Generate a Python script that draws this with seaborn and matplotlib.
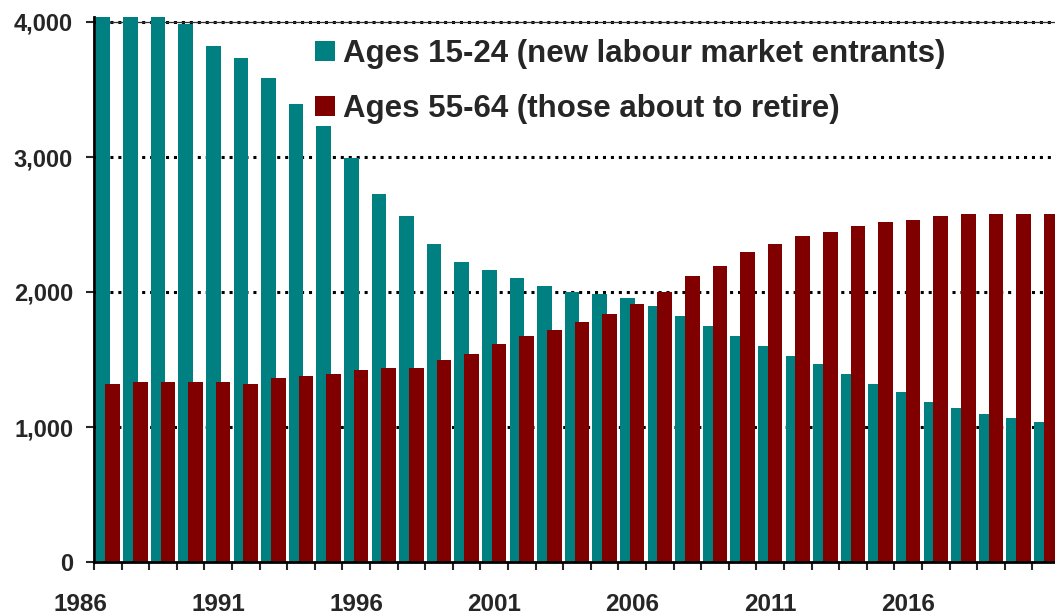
"""
Labour market entrants vs. those about to retire
Grouped (overlapping) bar chart, thousands of people per year
"""

import numpy as np
import pandas as pd
import matplotlib
matplotlib.use("Agg")
import matplotlib.pyplot as plt
from matplotlib.patches import Patch
import seaborn as sns

# Set style
sns.set_style("white")
plt.rcParams['font.family'] = ['Liberation Sans', 'DejaVu Sans']
plt.rcParams['font.weight'] = 'bold'

# ===== DATA (thousands) =====
years = list(range(1987, 2022))

ages_15_24 = [4060, 4060, 4060, 3985, 3822, 3733, 3585, 3393, 3230, 2993,
              2726, 2563, 2356, 2222, 2163, 2104, 2044, 2000, 1985, 1956,
              1896, 1822, 1748, 1674, 1600, 1526, 1467, 1393, 1319, 1259,
              1185, 1141, 1096, 1067, 1037]

ages_55_64 = [1319, 1333, 1333, 1333, 1333, 1319, 1363, 1378, 1393, 1422,
              1437, 1437, 1496, 1541, 1615, 1674, 1719, 1778, 1837, 1911,
              2000, 2119, 2193, 2296, 2356, 2415, 2444, 2489, 2519, 2533,
              2563, 2578, 2578, 2578, 2578]

label_years = [1986, 1991, 1996, 2001, 2006, 2011, 2016]
y_ticks = [0, 1000, 2000, 3000, 4000]

series_labels = ['Ages 15-24 (new labour market entrants)',
                 'Ages 55-64 (those about to retire)']
TEAL = '#008080'
MAROON = '#800000'

df = pd.DataFrame({'year': years, 'young': ages_15_24, 'old': ages_55_64})

# ============================================================================
# FIGURE
# ============================================================================
W, H = 1055, 615
PX_PER_YEAR = 27.6
x_left = years[0] - 1.1          # a bit of room so the 1986 label can be drawn
x_axis = years[0] - 0.5          # where the y axis line sits
ax_left_px = 94 - (x_axis - x_left) * PX_PER_YEAR

fig = plt.figure(figsize=(W / 100, H / 100), dpi=100)
ax = fig.add_axes([ax_left_px / W, 1 - 562 / H, 1 - ax_left_px / W, (562 - 16.6) / H])

# bars overlap a little: the red series sits on top of the teal one
shift = 0.18
sns.barplot(x=df['year'] - shift, y=df['young'], native_scale=True, width=0.53,
            color=TEAL, saturation=1, linewidth=0, errorbar=None, ax=ax, zorder=2)
sns.barplot(x=df['year'] + shift, y=df['old'], native_scale=True, width=0.53,
            color=MAROON, saturation=1, linewidth=0, errorbar=None, ax=ax, zorder=3)
ax.set_xlabel('')
ax.set_ylabel('')

# y axis
ax.set_yticks(y_ticks)
ax.set_yticklabels([f'{v:,}' for v in y_ticks])
ax.tick_params(axis='y', direction='out', length=6, width=1.5, pad=9,
               labelsize=17, left=True)

# x axis: labels every 5 years, small ticks between categories
ax.set_xticks(label_years)
ax.set_xticklabels([str(y) for y in label_years])
ax.set_xticks(np.arange(x_axis, years[-1] + 1, 1), minor=True)
ax.tick_params(axis='x', which='major', length=0, pad=22, labelsize=17.5)
ax.tick_params(axis='x', which='minor', direction='out', length=6, width=1.5,
               bottom=True)
for lab in ax.get_xticklabels() + ax.get_yticklabels():
    lab.set_fontweight('bold')

# axes ranges (after set_xticks, which would widen them)
x_right = x_left + (W - ax_left_px) / PX_PER_YEAR
ax.set_xlim(x_left, x_right)
ax.set_ylim(0, 4040)

# dotted gridlines behind the bars
ax.hlines(y_ticks[1:], x_axis, x_right, color='black', lw=2.2,
          linestyles=[(0, (1, 1.6))], zorder=1)
ax.hlines(4000, x_axis, x_right, color='#333333', lw=0.9, zorder=1)

sns.despine(ax=ax, top=True, right=True)
ax.spines['left'].set_position(('data', x_axis))
ax.spines['bottom'].set_bounds(x_axis, x_right)
for side in ['left', 'bottom']:
    ax.spines[side].set_color('black')
    ax.spines[side].set_linewidth(2)
    ax.spines[side].set_zorder(4)

# legend
handles = [Patch(facecolor=TEAL, edgecolor='none'),
           Patch(facecolor=MAROON, edgecolor='none')]
fig.legend(handles, series_labels, loc='upper left',
           bbox_to_anchor=(315 / W, 1 - 39 / H), bbox_transform=fig.transFigure,
           frameon=False, borderpad=0, borderaxespad=0,
           handlelength=0.64, handleheight=0.64, handletextpad=0.26,
           labelspacing=0.8, prop={'size': 22.5, 'weight': 'bold'})

fig.savefig('out.png', dpi=100)
print("Saved out.png")
